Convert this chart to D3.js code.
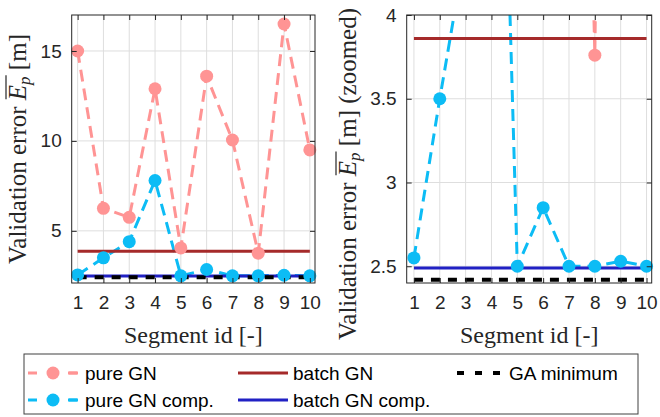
<!DOCTYPE html>
<html>
<head>
<meta charset="utf-8">
<script src="https://cdn.jsdelivr.net/npm/d3@7"></script>
<style>
  body { margin: 0; background: #fff; }
  svg { display: block; }
</style>
</head>
<body>
<svg id="chart" width="660" height="417"></svg>
<script>
// segment ids and validation errors
var segments   = [1, 2, 3, 4, 5, 6, 7, 8, 9, 10];
var pureGN     = [15.0, 6.25, 5.75, 12.9, 4.05, 13.6, 10.05, 3.76, 16.5, 9.5];
var pureGNComp = [2.55, 3.5, 4.4, 7.8, 2.5, 2.85, 2.5, 2.5, 2.53, 2.5];
var batchGN     = 3.86;
var batchGNComp = 2.49;
var gaMinimum   = 2.42;

var leftYTicks  = [5, 10, 15];
var rightYTicks = [2.5, 3, 3.5, 4];
var rightYTickLabels = ["2.5", "3", "3.5", "4"];

var SANS  = "'Liberation Sans', Arial, Helvetica, sans-serif";
var SERIF = "'Liberation Serif', 'Times New Roman', 'DejaVu Serif', serif";

var col = {
  pure: "#ff9494",
  pureComp: "#0cbcf5",
  batch: "#a52a2a",
  batchComp: "#2121c4",
  ga: "#000000"
};

var svg = d3.select("#chart");

function drawPanel(opts) {
  var x = d3.scaleLinear().domain(opts.xDomain).range([opts.left, opts.right]);
  var y = d3.scaleLinear().domain(opts.yDomain).range([opts.bottom, opts.top]);
  var g = svg.append("g");

  var clipId = "clip-" + opts.id;
  svg.append("clipPath").attr("id", clipId)
    .append("rect")
    .attr("x", opts.left).attr("y", opts.top)
    .attr("width", opts.right - opts.left).attr("height", opts.bottom - opts.top);

  // grid
  g.selectAll(".vgrid").data(segments).enter().append("line")
    .attr("x1", d => x(d)).attr("x2", d => x(d))
    .attr("y1", opts.top).attr("y2", opts.bottom)
    .attr("stroke", "#dedede").attr("stroke-width", 1);
  g.selectAll(".hgrid").data(opts.yTicks).enter().append("line")
    .attr("x1", opts.left).attr("x2", opts.right)
    .attr("y1", d => y(d)).attr("y2", d => y(d))
    .attr("stroke", "#dedede").attr("stroke-width", 1);

  var plot = g.append("g").attr("clip-path", `url(#${clipId})`);
  var line = d3.line().x((d, i) => x(segments[i])).y(d => y(d));

  // pure GN
  plot.append("path").datum(pureGN)
    .attr("d", line).attr("fill", "none")
    .attr("stroke", col.pure).attr("stroke-width", 3)
    .attr("stroke-dasharray", "12,7");
  // pure GN comp.
  plot.append("path").datum(pureGNComp)
    .attr("d", line).attr("fill", "none")
    .attr("stroke", col.pureComp).attr("stroke-width", 3)
    .attr("stroke-dasharray", "12,7");

  // markers are not clipped, only hidden when outside the y range
  var inRange = v => v >= opts.yDomain[0] && v <= opts.yDomain[1];
  g.selectAll(".m-pure").data(pureGN.map((v, i) => [segments[i], v]).filter(d => inRange(d[1])))
    .enter().append("circle")
    .attr("cx", d => x(d[0])).attr("cy", d => y(d[1])).attr("r", 6.5)
    .attr("fill", col.pure);
  g.selectAll(".m-comp").data(pureGNComp.map((v, i) => [segments[i], v]).filter(d => inRange(d[1])))
    .enter().append("circle")
    .attr("cx", d => x(d[0])).attr("cy", d => y(d[1])).attr("r", 6.5)
    .attr("fill", col.pureComp);

  // horizontal references
  var xs = [segments[0], segments[segments.length - 1]];
  plot.append("line")
    .attr("x1", x(xs[0])).attr("x2", x(xs[1]))
    .attr("y1", y(batchGN)).attr("y2", y(batchGN))
    .attr("stroke", col.batch).attr("stroke-width", 3);
  plot.append("line")
    .attr("x1", x(xs[0])).attr("x2", x(xs[1]))
    .attr("y1", y(batchGNComp)).attr("y2", y(batchGNComp))
    .attr("stroke", col.batchComp).attr("stroke-width", 3);
  plot.append("line")
    .attr("x1", x(xs[0])).attr("x2", x(xs[1]))
    .attr("y1", y(gaMinimum)).attr("y2", y(gaMinimum))
    .attr("stroke", col.ga).attr("stroke-width", 4)
    .attr("stroke-dasharray", "9,8");

  // axes (ticks inside, mirrored on all sides)
  var tk = 5;
  g.append("g").attr("transform", `translate(0,${opts.bottom})`)
    .call(d3.axisBottom(x).tickValues(segments).tickSize(-tk).tickPadding(13).tickSizeOuter(0));
  g.append("g").attr("transform", `translate(0,${opts.top})`)
    .call(d3.axisTop(x).tickValues(segments).tickSize(-tk).tickFormat("").tickSizeOuter(0));
  g.append("g").attr("transform", `translate(${opts.left},0)`)
    .call(d3.axisLeft(y).tickValues(opts.yTicks).tickSize(-tk).tickPadding(10).tickSizeOuter(0)
      .tickFormat((d, i) => opts.yTickLabels ? opts.yTickLabels[i] : d));
  g.append("g").attr("transform", `translate(${opts.right},0)`)
    .call(d3.axisRight(y).tickValues(opts.yTicks).tickSize(-tk).tickFormat("").tickSizeOuter(0));
  g.selectAll(".domain").remove();
  g.selectAll(".tick line").attr("stroke", "#262626");
  g.selectAll(".tick text")
    .style("font-family", SANS).style("font-size", "19px").attr("fill", "#262626");

  g.append("rect")
    .attr("x", opts.left).attr("y", opts.top)
    .attr("width", opts.right - opts.left).attr("height", opts.bottom - opts.top)
    .attr("fill", "none").attr("stroke", "#262626").attr("stroke-width", 1);

  g.append("text")
    .style("font-family", SERIF).style("font-size", "24px").attr("fill", "#262626")
    .attr("x", (opts.left + opts.right) / 2).attr("y", 343)
    .attr("text-anchor", "middle")
    .text("Segment id [-]");

  // y label with overlined E_p
  var yl = g.append("g").attr("transform", `translate(${opts.yLabelX},${opts.yLabelY}) rotate(-90)`);
  var t = yl.append("text")
    .style("font-family", SERIF).style("font-size", "25px").attr("fill", "#262626")
    .attr("text-anchor", "middle");
  t.append("tspan").text("Validation error ");
  t.append("tspan").attr("font-style", "italic").text("E");
  t.append("tspan").attr("font-style", "italic").style("font-size", "17px").attr("dy", 4).text("p");
  t.append("tspan").attr("dy", -4).text(" [m]" + (opts.zoomed ? " (zoomed)" : ""));
  var e0 = t.node().getExtentOfChar(17);
  var e1 = t.node().getExtentOfChar(18);
  yl.append("line")
    .attr("x1", e0.x + 1).attr("x2", e1.x + e1.width + 1)
    .attr("y1", -20).attr("y2", -20)
    .attr("stroke", "#262626").attr("stroke-width", 1.2);
}

drawPanel({
  id: "left", left: 71.7, right: 315, top: 15, bottom: 283,
  xDomain: [0.77, 10.2], yDomain: [2.1, 17], yTicks: leftYTicks,
  yLabelX: 26, yLabelY: 149, zoomed: false
});
drawPanel({
  id: "right", left: 406.7, right: 651.7, top: 15, bottom: 283,
  xDomain: [0.72, 10.2], yDomain: [2.4, 4], yTicks: rightYTicks, yTickLabels: rightYTickLabels,
  yLabelX: 356, yLabelY: 174, zoomed: true
});

// legend
var legend = svg.append("g");
legend.append("rect")
  .attr("x", 24).attr("y", 354).attr("width", 614).attr("height", 60)
  .attr("fill", "#fff").attr("stroke", "#404040").attr("stroke-width", 1);

var legendItems = [
  {label: "pure GN", color: col.pure, dash: "9,7", marker: true, w: 3, col: 0, row: 0},
  {label: "pure GN comp.", color: col.pureComp, dash: "9,7", marker: true, w: 3, col: 0, row: 1},
  {label: "batch GN", color: col.batch, dash: null, marker: false, w: 3, col: 1, row: 0},
  {label: "batch GN comp.", color: col.batchComp, dash: null, marker: false, w: 3, col: 1, row: 1},
  {label: "GA minimum", color: col.ga, dash: "7,11", marker: false, w: 4, col: 2, row: 0}
];
var colX = [28, 238, 457];
var textX = [85, 293, 509];
var rowY = [373, 400];

legendItems.forEach(function(d) {
  var x0 = colX[d.col], yy = rowY[d.row];
  var ln = legend.append("line")
    .attr("x1", x0).attr("x2", x0 + 50)
    .attr("y1", yy).attr("y2", yy)
    .attr("stroke", d.color).attr("stroke-width", d.w);
  if (d.dash) ln.attr("stroke-dasharray", d.dash);
  if (d.marker) {
    ln.attr("stroke-dasharray", "9,31");
    legend.append("line")
      .attr("x1", x0 + 50).attr("x2", x0 + 41)
      .attr("y1", yy).attr("y2", yy)
      .attr("stroke", d.color).attr("stroke-width", d.w);
    legend.append("circle")
      .attr("cx", x0 + 25).attr("cy", yy).attr("r", 6.5)
      .attr("fill", d.color);
  }
  legend.append("text")
    .style("font-family", SANS).style("font-size", "19px").attr("fill", "#000")
    .attr("x", textX[d.col]).attr("y", yy + 6.5)
    .text(d.label);
});
</script>
</body>
</html>
